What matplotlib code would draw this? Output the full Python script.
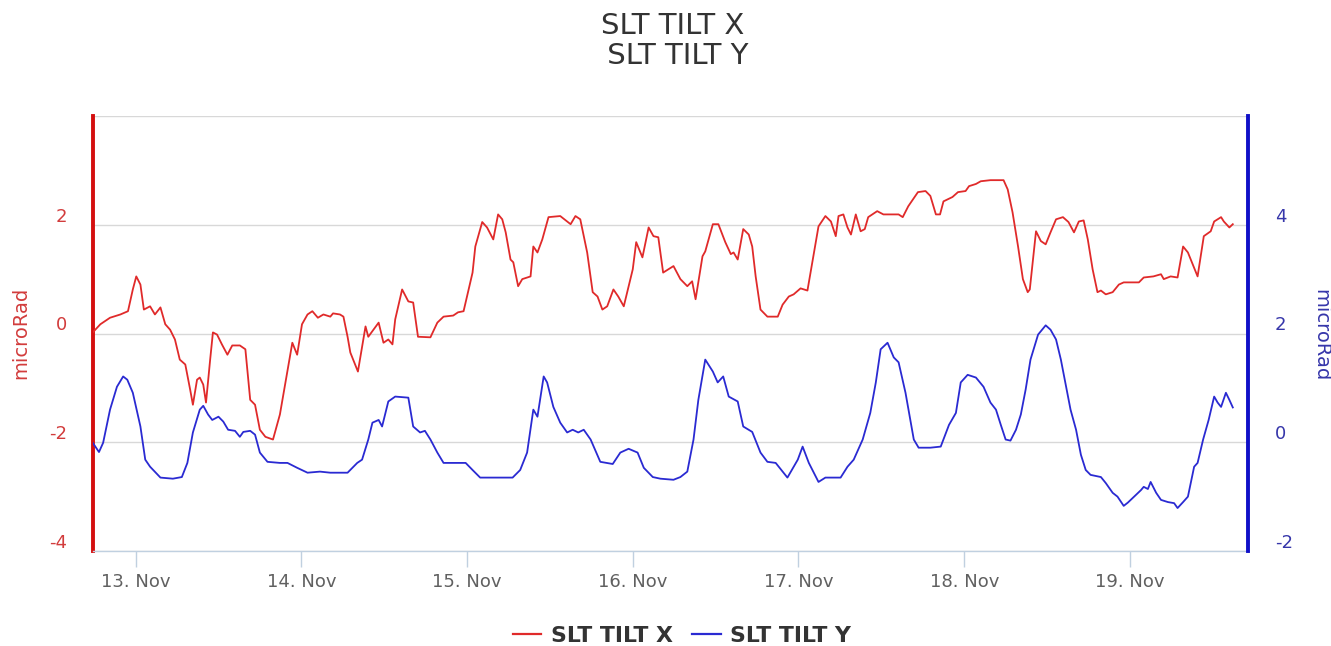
import numpy as np
import matplotlib
matplotlib.use("Agg")
import matplotlib.pyplot as plt
import matplotlib.dates as mdates
from matplotlib.ticker import FixedLocator, FuncFormatter
from matplotlib.transforms import ScaledTranslation
from matplotlib.lines import Line2D

plt.rcParams["font.family"] = ["DejaVu Sans"]
plt.rcParams["axes.unicode_minus"] = False

# ---- data -----------------------------------------------------------------
START = np.datetime64("2019-11-13T00:00")

# SLT TILT X  (hours after 13 Nov 00:00, microRad, left axis)
tilt_x_hours = [
    -6.2, -5.1, -3.7, -2.2, -1.1, -0.4, 0.1, 0.7, 1.2, 2.1,
    2.8, 3.6, 4.3, 5.0, 5.7, 6.4, 7.2, 7.9, 8.3, 8.9,
    9.3, 9.8, 10.2, 10.8, 11.2, 11.8, 12.5, 13.3, 14.0, 15.1,
    15.9, 16.6, 17.3, 18.0, 18.8, 19.9, 20.9, 21.9, 22.7, 23.4,
    24.1, 24.9, 25.6, 26.4, 27.2, 28.2, 28.6, 29.6, 30.1, 30.7,
    31.1, 32.2, 33.3, 33.7, 35.2, 35.9, 36.6, 37.2, 37.6, 38.6,
    39.5, 40.2, 40.9, 42.7, 43.7, 44.6, 46.0, 46.7, 47.5, 48.0,
    48.8, 49.2, 50.2, 50.9, 51.8, 52.5, 53.1, 53.6, 54.3, 54.7,
    55.4, 56.0, 56.7, 57.2, 57.6, 58.2, 58.9, 59.8, 61.5, 63.0,
    63.7, 64.4, 65.4, 66.2, 66.9, 67.6, 68.3, 69.2, 69.9, 70.7,
    71.4, 72.0, 72.5, 73.4, 74.3, 75.0, 75.7, 76.4, 77.9, 78.9,
    79.9, 80.6, 81.1, 82.1, 82.5, 83.6, 84.4, 85.4, 86.2, 86.6,
    87.2, 88.0, 88.8, 89.3, 89.8, 90.5, 91.5, 93.0, 93.7, 94.6,
    95.3, 96.3, 97.3, 98.0, 98.9, 99.9, 100.7, 101.4, 101.8, 102.5,
    103.1, 103.6, 104.3, 105.0, 105.6, 106.1, 107.4, 108.3, 110.5, 111.1,
    111.9, 113.3, 114.4, 115.1, 115.9, 116.5, 117.0, 118.3, 119.1, 120.2,
    120.7, 121.7, 122.4, 123.8, 125.7, 126.3, 127.0, 127.8, 128.5, 129.2,
    129.5, 130.4, 131.1, 131.8, 132.5, 133.3, 134.3, 135.1, 135.9, 136.6,
    137.3, 137.9, 138.6, 139.3, 139.8, 140.5, 141.5, 142.4, 143.1, 145.3,
    146.0, 147.4, 148.5, 148.9, 149.9, 150.9, 151.7, 152.4, 153.1, 153.8,
    154.7, 155.7, 156.2, 157.2, 157.6, 158.4, 158.9,
]
tilt_x_values = [
    0.02, 0.17, 0.29, 0.35, 0.41, 0.81, 1.05, 0.90, 0.44, 0.50,
    0.35, 0.48, 0.17, 0.07, -0.11, -0.48, -0.57, -1.03, -1.31, -0.85,
    -0.81, -0.94, -1.27, -0.48, 0.02, -0.02, -0.20, -0.39, -0.22, -0.22,
    -0.29, -1.22, -1.31, -1.77, -1.90, -1.95, -1.49, -0.76, -0.17, -0.39,
    0.17, 0.35, 0.41, 0.29, 0.35, 0.31, 0.37, 0.35, 0.31, -0.06,
    -0.35, -0.70, 0.13, -0.06, 0.20, -0.17, -0.11, -0.20, 0.26, 0.81,
    0.59, 0.57, -0.06, -0.07, 0.20, 0.31, 0.33, 0.39, 0.41, 0.68,
    1.12, 1.60, 2.05, 1.95, 1.73, 2.19, 2.10, 1.86, 1.36, 1.31,
    0.87, 1.00, 1.03, 1.05, 1.60, 1.49, 1.73, 2.14, 2.16, 2.01,
    2.16, 2.10, 1.49, 0.76, 0.68, 0.44, 0.50, 0.81, 0.68, 0.50,
    0.87, 1.18, 1.68, 1.40, 1.95, 1.79, 1.77, 1.12, 1.24, 1.00,
    0.87, 0.96, 0.63, 1.42, 1.51, 2.01, 2.01, 1.68, 1.46, 1.49,
    1.36, 1.92, 1.82, 1.60, 1.05, 0.44, 0.31, 0.31, 0.53, 0.68,
    0.72, 0.83, 0.79, 1.31, 1.97, 2.16, 2.06, 1.79, 2.16, 2.19,
    1.95, 1.82, 2.19, 1.88, 1.92, 2.14, 2.25, 2.19, 2.19, 2.14,
    2.34, 2.60, 2.62, 2.53, 2.19, 2.19, 2.43, 2.51, 2.60, 2.62,
    2.71, 2.75, 2.80, 2.82, 2.82, 2.65, 2.23, 1.60, 1.00, 0.76,
    0.81, 1.88, 1.70, 1.64, 1.86, 2.10, 2.14, 2.05, 1.86, 2.06,
    2.08, 1.73, 1.18, 0.76, 0.79, 0.72, 0.76, 0.90, 0.94, 0.94,
    1.03, 1.05, 1.09, 1.00, 1.05, 1.03, 1.60, 1.49, 1.27, 1.05,
    1.79, 1.88, 2.06, 2.14, 2.06, 1.95, 2.01,
]

# SLT TILT Y  (hours after 13 Nov 00:00, microRad, right axis)
tilt_y_hours = [
    -6.2, -5.3, -4.7, -3.7, -2.7, -1.8, -1.2, -0.4, 0.7, 1.4,
    2.1, 3.6, 5.4, 6.7, 7.5, 8.3, 9.3, 9.8, 10.5, 11.1,
    12.0, 12.7, 13.4, 14.4, 15.1, 15.6, 16.6, 17.3, 18.0, 19.1,
    20.9, 22.0, 23.4, 24.9, 26.7, 28.2, 30.7, 32.1, 32.8, 33.7,
    34.3, 35.2, 35.7, 36.6, 37.6, 39.5, 40.2, 41.2, 41.9, 42.7,
    43.7, 44.6, 47.8, 48.8, 49.9, 54.6, 55.7, 56.7, 57.6, 58.2,
    59.1, 59.6, 60.5, 61.5, 62.5, 63.3, 64.1, 64.9, 65.9, 67.3,
    69.1, 70.2, 71.4, 72.7, 73.6, 74.9, 76.0, 77.9, 78.9, 79.9,
    80.8, 81.5, 82.5, 83.6, 84.3, 85.1, 85.9, 87.2, 88.0, 89.3,
    90.5, 91.5, 92.7, 94.4, 95.9, 96.6, 97.5, 98.9, 99.9, 102.1,
    103.1, 104.0, 105.3, 106.4, 107.2, 107.9, 108.9, 109.8, 110.5, 111.5,
    112.7, 113.4, 115.1, 116.6, 117.8, 118.8, 119.5, 120.5, 121.7, 122.8,
    123.8, 124.6, 125.3, 126.0, 126.7, 127.5, 128.2, 128.9, 129.6, 130.7,
    131.8, 132.5, 133.3, 134.0, 134.7, 135.4, 136.2, 136.9, 137.6, 138.3,
    139.8, 140.5, 141.5, 142.2, 143.1, 143.7, 144.6, 145.6, 146.0, 146.6,
    147.0, 147.8, 148.5, 149.5, 150.4, 150.9, 151.7, 152.4, 153.3, 153.8,
    154.6, 155.4, 156.2, 156.7, 157.2, 157.9, 158.4, 158.9,
]
tilt_y_values = [
    -0.01, -0.18, -0.01, 0.60, 1.02, 1.21, 1.15, 0.91, 0.29, -0.32,
    -0.45, -0.65, -0.67, -0.64, -0.38, 0.18, 0.60, 0.67, 0.51, 0.41,
    0.47, 0.38, 0.23, 0.21, 0.10, 0.19, 0.21, 0.14, -0.19, -0.36,
    -0.38, -0.38, -0.47, -0.56, -0.54, -0.56, -0.56, -0.38, -0.32, 0.05,
    0.36, 0.41, 0.29, 0.75, 0.84, 0.82, 0.29, 0.18, 0.21, 0.05,
    -0.19, -0.38, -0.38, -0.51, -0.65, -0.65, -0.51, -0.19, 0.60, 0.47,
    1.21, 1.10, 0.65, 0.36, 0.18, 0.23, 0.18, 0.23, 0.05, -0.36,
    -0.40, -0.19, -0.12, -0.19, -0.47, -0.64, -0.67, -0.69, -0.64, -0.54,
    0.05, 0.78, 1.52, 1.30, 1.10, 1.21, 0.84, 0.75, 0.29, 0.19,
    -0.19, -0.36, -0.38, -0.65, -0.32, -0.08, -0.38, -0.73, -0.65, -0.65,
    -0.45, -0.32, 0.05, 0.54, 1.10, 1.71, 1.83, 1.56, 1.47, 0.91,
    0.05, -0.10, -0.10, -0.08, 0.32, 0.54, 1.10, 1.24, 1.19, 1.02,
    0.73, 0.60, 0.32, 0.05, 0.03, 0.23, 0.51, 0.97, 1.52, 1.98,
    2.15, 2.07, 1.89, 1.52, 1.06, 0.60, 0.23, -0.23, -0.51, -0.60,
    -0.64, -0.75, -0.93, -1.00, -1.17, -1.11, -1.00, -0.88, -0.82, -0.86,
    -0.73, -0.93, -1.06, -1.10, -1.12, -1.21, -1.10, -1.00, -0.45, -0.38,
    0.05, 0.41, 0.84, 0.73, 0.65, 0.91, 0.78, 0.64,
]

left_ticks = [-4, -2, 0, 2, 4]
right_ticks = [-2, 0, 2, 4, 6]
x_span_hours = [-6.16, 161.1]

title_text = "SLT TILT X\n SLT TILT Y"
series_names = ["SLT TILT X", "SLT TILT Y"]
axis_title = "microRad"

# ---- styling --------------------------------------------------------------
RED_LINE = "#e02a2a"
BLUE_LINE = "#2a2ad2"
RED_AXIS = "#d40f0f"
BLUE_AXIS = "#1010c8"
RED_TEXT = "#d23c3c"
BLUE_TEXT = "#3636aa"
GRID = "#d8d8d8"
XAXIS = "#c0d0e0"
LABEL = "#606060"


def to_time(hours):
    minutes = np.round(np.asarray(hours, dtype=float) * 60).astype(np.int64)
    return START + minutes.astype("timedelta64[m]")


W, H = 1331, 646
fig = plt.figure(figsize=(W / 100, H / 100), dpi=100)
L, R, T, B = 93, 1248, 116, 551
ax = fig.add_axes([L / W, 1 - B / H, (R - L) / W, (B - T) / H])
ax2 = ax.twinx()

ax.plot(to_time(tilt_x_hours), tilt_x_values, color=RED_LINE, lw=1.3,
        solid_joinstyle="round", zorder=3)
ax2.plot(to_time(tilt_y_hours), tilt_y_values, color=BLUE_LINE, lw=1.3,
         solid_joinstyle="round", zorder=3)

ax.set_xlim(to_time(x_span_hours[0]), to_time(x_span_hours[1]))
ax.set_ylim(left_ticks[0], left_ticks[-1])
ax2.set_ylim(right_ticks[0], right_ticks[-1])

# y axes: gridlines from the left axis, top label suppressed
ax.yaxis.set_major_locator(FixedLocator(left_ticks))
ax2.yaxis.set_major_locator(FixedLocator(right_ticks))
top_l, top_r = left_ticks[-1], right_ticks[-1]
ax.yaxis.set_major_formatter(FuncFormatter(lambda v, p: "" if v >= top_l else f"{v:g}"))
ax2.yaxis.set_major_formatter(FuncFormatter(lambda v, p: "" if v >= top_r else f"{v:g}"))
ax.grid(axis="y", color=GRID, lw=1.0)
ax.set_axisbelow(True)

ax.tick_params(axis="y", length=0, pad=18.5, labelsize=13, labelcolor=RED_TEXT)
ax2.tick_params(axis="y", length=0, pad=19.5, labelsize=13, labelcolor=BLUE_TEXT)

lift = ScaledTranslation(0, 0.10, fig.dpi_scale_trans)
for tk in ax.yaxis.get_major_ticks():
    tk.label1.set_transform(tk.label1.get_transform() + lift)
for tk in ax2.yaxis.get_major_ticks():
    tk.label2.set_transform(tk.label2.get_transform() + lift)

# x axis with day ticks
ax.xaxis.set_major_locator(mdates.DayLocator())
ax.xaxis.set_major_formatter(mdates.DateFormatter("%d. %b"))
ax.tick_params(axis="x", length=11.5, width=1, color=XAXIS, pad=4,
               labelsize=13, labelcolor=LABEL)

# spines
for s in ("top", "right"):
    ax.spines[s].set_visible(False)
for s in ("top", "left", "bottom"):
    ax2.spines[s].set_visible(False)
ax.spines["left"].set_color(RED_AXIS)
ax.spines["left"].set_linewidth(2.8)
ax.spines["bottom"].set_color(XAXIS)
ax.spines["bottom"].set_linewidth(1.0)
ax2.spines["right"].set_color(BLUE_AXIS)
ax2.spines["right"].set_linewidth(2.8)

# axis titles
fig.text(21 / W, 1 - 333 / H, axis_title, rotation=90, ha="center", va="center",
         fontsize=14, color=RED_TEXT)
fig.text(1321 / W, 1 - 335 / H, axis_title, rotation=270, ha="center", va="center",
         fontsize=14, color=BLUE_TEXT)

# chart title
fig.text(673 / W, 1 - 41 / H, title_text, ha="center", va="center",
         fontsize=21, color="#333333", linespacing=1.1)

# legend
handles = [Line2D([], [], color=RED_LINE, lw=1.6), Line2D([], [], color=BLUE_LINE, lw=1.6)]
fig.legend(handles, series_names, loc="center", bbox_to_anchor=(682 / W, 1 - 636 / H),
           ncol=2, frameon=False, prop={"weight": "bold", "size": 15.8},
           labelcolor="#333333", handlelength=1.3, handletextpad=0.42,
           columnspacing=0.9, borderpad=0, borderaxespad=0)

fig.savefig("out.png", dpi=100, facecolor="white")
